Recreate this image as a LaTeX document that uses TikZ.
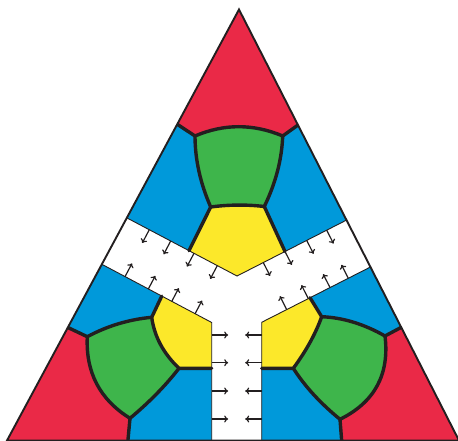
\documentclass[tikz,border=0pt]{standalone}
\usetikzlibrary{arrows.meta,calc}

\definecolor{triRed}{RGB}{234,41,71}
\definecolor{triBlue}{RGB}{0,153,218}
\definecolor{triGreen}{RGB}{62,181,75}
\definecolor{triYellow}{RGB}{252,232,42}
\definecolor{triInk}{RGB}{35,31,32}

\tikzset{
  wall/.style={line width=3.4pt, draw=triInk, line cap=round, line join=round},
  rim/.style={line width=1.9pt, draw=triInk, line join=miter},
  channel/.style={line width=0.9pt, draw=triInk},
  flux/.style={-{To[length=4pt,width=7pt]}, line width=1.2pt, draw=triInk},
  % quadratic arc through one control point
  qto/.style={to path={.. controls ($(\tikztostart)!0.6667!(#1)$)
      and ($(\tikztotarget)!0.6667!(#1)$) .. (\tikztotarget)}},
}

\begin{document}
\begin{tikzpicture}[x=1pt,y=-1pt]
  \useasboundingbox (0,0) rectangle (458,441);

  % Triangle corners
  \coordinate (T)  at (239,9.5);
  \coordinate (BL) at (7,440.5);
  \coordinate (BR) at (459,440.5);

  % Top cell
  \coordinate (a1) at (170,119.5);
  \coordinate (a2) at (305,120);
  \coordinate (g1) at (195,136);
  \coordinate (g2) at (282.7,136);
  \coordinate (g3) at (264.3,206.5);
  \coordinate (g4) at (210.7,207);
  \coordinate (y0) at (237,276);
  \coordinate (y1) at (285,251.5);
  \coordinate (y2) at (189,250.7);
  \coordinate (q12) at (238.6,117.4);
  \coordinate (q23) at (281.4,171.3);
  \coordinate (q34) at (237.5,203.4);
  \coordinate (q41) at (195.1,171.5);

  % White channel
  \coordinate (u1) at (110,209);
  \coordinate (u2) at (360,213.2);
  \coordinate (l1) at (90,258);
  \coordinate (l2) at (385,259.6);
  \coordinate (c1) at (211.7,322.5);
  \coordinate (c2) at (261.7,322.3);
  \coordinate (c3) at (211.7,368.3);
  \coordinate (c4) at (261.7,368.3);
  \coordinate (e1) at (211.7,445);
  \coordinate (e2) at (261.7,445);

  % Bottom left cell
  \coordinate (a3) at (55,321.4);
  \coordinate (g5) at (87.3,336.7);
  \coordinate (g6) at (151.7,317.3);
  \coordinate (g7) at (179,368.3);
  \coordinate (g8) at (130,418.3);
  \coordinate (y3) at (161.7,296.2);
  \coordinate (e3) at (127.5,445);
  \coordinate (q56) at (117.5,320.5);
  \coordinate (q67) at (155.7,346.2);
  \coordinate (q78) at (158.5,394.6);
  \coordinate (q85) at (84.7,390.1);

  % Bottom right cell
  \coordinate (a4) at (415,320);
  \coordinate (g9) at (293.3,368.3);
  \coordinate (g10) at (321.7,316.7);
  \coordinate (g11) at (385,336);
  \coordinate (g12) at (340,419.3);
  \coordinate (y4) at (310,297.7);
  \coordinate (e4) at (342,445);
  \coordinate (q1011) at (353.4,318);
  \coordinate (q1112) at (392,393.6);
  \coordinate (q129) at (310.4,395.1);
  \coordinate (q910) at (312.4,342.5);

  \begin{scope}
    \clip (T) -- (BL) -- (BR) -- cycle;

    % Regions
    \fill[triRed] (a1) -- (g1) to[qto=q12] (g2) -- (a2) -- (400,-10) -- (80,-10) -- cycle;
    \fill[triBlue] (a1) -- (g1) to[qto=q41] (g4) -- (y2) -- (u1) -- cycle;
    \fill[triBlue] (a2) -- (g2) to[qto=q23] (g3) -- (y1) -- (u2) -- cycle;
    \fill[triGreen] (g1) to[qto=q12] (g2) to[qto=q23] (g3)
      to[qto=q34] (g4) to[qto=q41] (g1) -- cycle;
    \fill[triYellow] (g4) to[qto=q34] (g3) -- (y1) -- (y0) -- (y2) -- cycle;

    \fill[triBlue] (l1) -- (y3) -- (g6) to[qto=q56] (g5) -- (a3) -- cycle;
    \fill[triRed] (a3) -- (g5) to[qto=q85] (g8) -- (e3) -- (-10,445) -- (-10,300) -- cycle;
    \fill[triYellow] (y3) -- (c1) -- (c3) -- (g7) to[qto=q67] (g6) -- cycle;
    \fill[triGreen] (g5) to[qto=q56] (g6) to[qto=q67] (g7)
      to[qto=q78] (g8) to[qto=q85] (g5) -- cycle;
    \fill[triBlue] (g8) to[qto=q78] (g7) -- (c3) -- (e1) -- (e3) -- cycle;

    \fill[triBlue] (l2) -- (y4) -- (g10) to[qto=q1011] (g11) -- (a4) -- cycle;
    \fill[triRed] (a4) -- (g11) to[qto=q1112] (g12) -- (e4) -- (470,445) -- (470,300) -- cycle;
    \fill[triYellow] (c2) -- (y4) -- (g10) to[qto=q910] (g9) -- (c4) -- cycle;
    \fill[triGreen] (g10) to[qto=q1011] (g11) to[qto=q1112] (g12)
      to[qto=q129] (g9) to[qto=q910] (g10) -- cycle;
    \fill[triBlue] (c4) -- (g9) to[qto=q129] (g12) -- (e4) -- (e2) -- cycle;

    % Channel edges
    \draw[channel] (u1) -- (y0) -- (u2);
    \draw[channel] (l1) -- (c1) -- (e1);
    \draw[channel] (l2) -- (c2) -- (e2);

    % Cell walls
    \draw[wall] (a1) -- (g1) to[qto=q12] (g2) -- (a2);
    \draw[wall] (g1) to[qto=q41] (g4) to[qto=q34] (g3) to[qto=q23] (g2);
    \draw[wall] (y2) -- (g4);
    \draw[wall] (y1) -- (g3);

    \draw[wall] (a3) -- (g5) to[qto=q56] (g6) -- (y3);
    \draw[wall] (g6) to[qto=q67] (g7) -- (c3);
    \draw[wall] (g5) to[qto=q85] (g8) to[qto=q78] (g7);
    \draw[wall] (g8) -- (e3);

    \draw[wall] (a4) -- (g11) to[qto=q1011] (g10) -- (y4);
    \draw[wall] (g10) to[qto=q910] (g9) -- (c4);
    \draw[wall] (g11) to[qto=q1112] (g12) to[qto=q129] (g9);
    \draw[wall] (g12) -- (e4);
  \end{scope}

  % Outline
  \draw[rim] (T) -- (BL) -- (BR) -- cycle;

  % Flux arrows
  \foreach \x in {149.3,170.7,194,217.3}
    \draw[flux] (\x,{218.3+(\x-127.7)*0.528}) -- ++(-7,13.3);
  \foreach \x in {125,148.3,171.7,195}
    \draw[flux] (\x,{265.7+(\x-104.3)*0.531}) -- ++(7,-13.3);
  \foreach \x in {263.3,285,306.7,326.7}
    \draw[flux] (\x,{276-(\x-237)*0.511}) -- ++(6.8,13.4);
  \foreach \x in {286.7,308.3,330,348.3}
    \draw[flux] (\x,{322.3-(\x-261.7)*0.5087}) -- ++(-6.8,-13.4);
  \foreach \y in {335,362.7,391,419}{
    \draw[flux] (211.7,\y) -- ++(16.5,0);
    \draw[flux] (261.7,\y) -- ++(-16.5,0);
  }

\end{tikzpicture}
\end{document}
